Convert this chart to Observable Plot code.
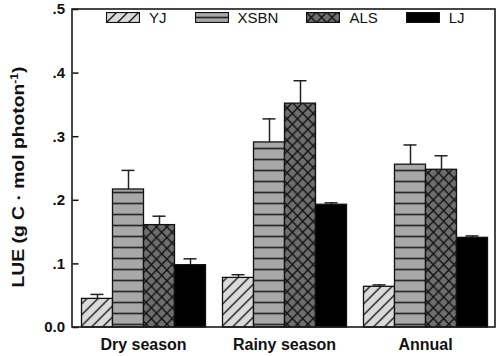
<!DOCTYPE html>
<html>
<head>
<meta charset="utf-8">
<script src="https://cdn.jsdelivr.net/npm/d3@7"></script>
<script src="https://cdn.jsdelivr.net/npm/@observablehq/plot@0.6"></script>
<style>
  body { margin: 0; background: #fff; font-family: "Liberation Sans", Arial, sans-serif; }
  #wrap { position: relative; width: 500px; height: 356px; }
  #legend { position: absolute; left: 106px; top: 12px; display: flex; align-items: center; font-size: 15px; color: #111; }
  #legend .item { display: flex; align-items: center; }
  #legend svg { margin-right: 9px; }
  #legend span { margin-right: 28px; line-height: 11px; }
</style>
</head>
<body>
<svg width="0" height="0" style="position:absolute">
  <defs>
    <pattern id="pYJ" patternUnits="userSpaceOnUse" width="11" height="11">
      <rect width="11" height="11" fill="#dadada"/>
      <path d="M0,11 L11,0 M-2,2 L2,-2 M9,13 L13,9" stroke="#111" stroke-width="1.3"/>
    </pattern>
    <pattern id="pXSBN" patternUnits="userSpaceOnUse" width="10" height="11" y="4.7">
      <rect width="10" height="11" fill="#a8a8a8"/>
      <path d="M0,0.7 L10,0.7" stroke="#111" stroke-width="1.5"/>
    </pattern>
    <pattern id="pALS" patternUnits="userSpaceOnUse" width="10.4" height="10.8">
      <rect width="10.4" height="10.8" fill="#6e6e6e"/>
      <path d="M0,0 L10.4,10.8 M0,10.8 L10.4,0" stroke="#111" stroke-width="1.4"/>
    </pattern>
  </defs>
</svg>
<div id="wrap"></div>
<script>
const groups = ["Dry season", "Rainy season", "Annual"];
const series = ["YJ", "XSBN", "ALS", "LJ"];
const fills = ["url(#pYJ)", "url(#pXSBN)", "url(#pALS)", "#000"];
// mean values per series (Dry, Rainy, Annual)
const YJ   = [0.045, 0.078, 0.064];
const XSBN = [0.217, 0.291, 0.256];
const ALS  = [0.161, 0.352, 0.248];
const LJ   = [0.098, 0.193, 0.141];
// upper ends of error bars
const YJ_up   = [0.052, 0.083, 0.067];
const XSBN_up = [0.247, 0.328, 0.287];
const ALS_up  = [0.175, 0.388, 0.270];
const LJ_up   = [0.108, 0.196, 0.144];
const yTicks = [0, 0.1, 0.2, 0.3, 0.4, 0.5];
const yTickLabels = ["0.0", ".1", ".2", ".3", ".4", ".5"];

const means = {YJ, XSBN, ALS, LJ};
const ups = {YJ: YJ_up, XSBN: XSBN_up, ALS: ALS_up, LJ: LJ_up};
const data = [];
groups.forEach((g, i) => series.forEach(s => data.push({group: g, series: s, value: means[s][i], upper: ups[s][i]})));

const plot = Plot.plot({
  width: 500,
  height: 356,
  marginLeft: 80.5,
  marginRight: 13.5,
  marginTop: 9,
  marginBottom: 29,
  style: {fontFamily: "'Liberation Sans', Arial, sans-serif", background: "transparent", color: "#111"},
  fx: {domain: groups, paddingInner: 0.1206, paddingOuter: 0, label: null},
  x: {domain: series, padding: 0, axis: null},
  y: {domain: [0, 0.5], axis: null},
  color: {domain: series, range: fills},
  marks: [
    Plot.ruleX(data, {fx: "group", x: "series", y1: "value", y2: "upper", stroke: "#222", strokeWidth: 1.5}),
    Plot.tickY(data, {fx: "group", x: "series", y: "upper", stroke: "#222", strokeWidth: 1.5, insetLeft: 9, insetRight: 9}),
    Plot.barY(data, {fx: "group", x: "series", y: "value", fill: "series", stroke: "#111", strokeWidth: 1.3}),
    Plot.axisY({ticks: yTicks, tickFormat: (d, i) => yTickLabels[yTicks.indexOf(d)], tickSize: 6, dx: -2.5, tickPadding: 8,
      fontSize: 15, fontWeight: "bold", strokeWidth: 1.5, label: null}),
    Plot.axisFx({anchor: "bottom", tickSize: 0, tickPadding: 11, fontSize: 16, fontWeight: "bold", label: null})
  ]
});

const ns = "http://www.w3.org/2000/svg";
// plot frame
const frame = document.createElementNS(ns, "rect");
frame.setAttribute("x", 72); frame.setAttribute("y", 9);
frame.setAttribute("width", 423); frame.setAttribute("height", 318);
frame.setAttribute("fill", "none"); frame.setAttribute("stroke", "#1a1a1a"); frame.setAttribute("stroke-width", 1.6);
plot.appendChild(frame);
// y axis title
const t = document.createElementNS(ns, "text");
t.setAttribute("transform", "translate(24,177) rotate(-90)");
t.setAttribute("text-anchor", "middle");
t.setAttribute("font-size", 16);
t.setAttribute("font-weight", "bold");
t.setAttribute("textLength", 221);
t.setAttribute("lengthAdjust", "spacingAndGlyphs");
t.setAttribute("fill", "#111");
t.innerHTML = 'LUE (g C · mol photon<tspan dy="-6" font-size="10">-1</tspan><tspan dy="6">)</tspan>';
plot.appendChild(t);

const wrap = document.getElementById("wrap");
wrap.appendChild(plot);

// legend
const legend = document.createElement("div");
legend.id = "legend";
series.forEach((s, i) => {
  const item = document.createElement("div");
  item.className = "item";
  item.innerHTML = `<svg width="34" height="11"><rect x="0.5" y="0.5" width="33" height="10" fill="${fills[i]}" stroke="#111" stroke-width="1.2"/></svg><span>${s}</span>`;
  legend.appendChild(item);
});
wrap.appendChild(legend);
</script>
</body>
</html>
